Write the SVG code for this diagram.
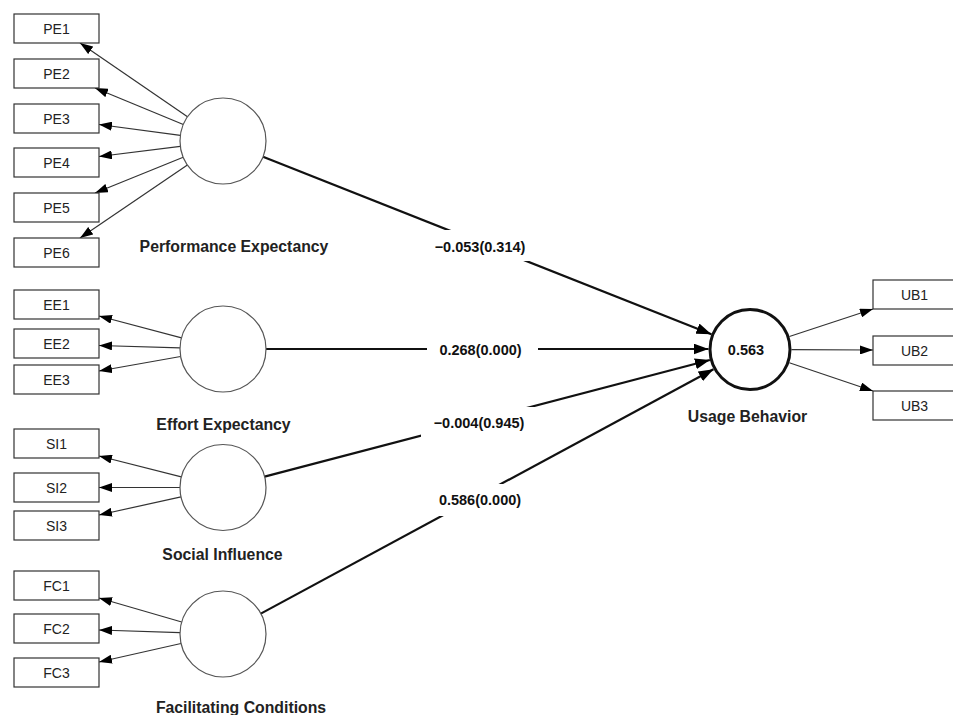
<svg xmlns="http://www.w3.org/2000/svg" width="953" height="715" viewBox="0 0 953 715">
<defs>
<marker id="ah" markerUnits="userSpaceOnUse" markerWidth="13" markerHeight="9" refX="13" refY="4.5" orient="auto"><path d="M0,0 L13,4.5 L0,9 z" fill="#000"/></marker>
<marker id="ahb" markerUnits="userSpaceOnUse" markerWidth="15" markerHeight="11" refX="15" refY="5.5" orient="auto"><path d="M0,0 L15,5.5 L0,11 z" fill="#000"/></marker>
<style>
.box{fill:#fff;stroke:#333;stroke-width:1.2}
.bt{font-family:"Liberation Sans",Arial,sans-serif;font-size:14px;fill:#222;text-anchor:middle}
.lv{fill:#fff;stroke:#555;stroke-width:1.2}
.lvb{fill:#fff;stroke:#111;stroke-width:3}
.lbl{font-family:"Liberation Sans",Arial,sans-serif;font-size:15.8px;font-weight:bold;fill:#222;text-anchor:middle}
.ind{stroke:#333;stroke-width:1.2;fill:none;marker-end:url(#ah)}
.str{stroke:#111;stroke-width:2.2;fill:none;marker-end:url(#ahb)}
.el{font-family:"Liberation Sans",Arial,sans-serif;font-size:14.5px;font-weight:bold;fill:#111;text-anchor:middle}
</style>
</defs>
<rect width="953" height="715" fill="#fff"/>

<g id="connectors">
<line class="ind" x1="187.5" y1="116.7" x2="80" y2="43"/>
<line class="ind" x1="183.3" y1="124.5" x2="95" y2="88"/>
<line class="ind" x1="180.4" y1="135.3" x2="99" y2="124.5"/>
<line class="ind" x1="180.3" y1="146.3" x2="99" y2="156.5"/>
<line class="ind" x1="183.2" y1="157.2" x2="95" y2="193"/>
<line class="ind" x1="187.4" y1="165.1" x2="80" y2="238"/>
<line class="ind" x1="181.5" y1="337.9" x2="99" y2="316"/>
<line class="ind" x1="180" y1="347.8" x2="99" y2="345.5"/>
<line class="ind" x1="180.6" y1="356.5" x2="99" y2="371"/>
<line class="ind" x1="181.3" y1="476.9" x2="99" y2="456"/>
<line class="ind" x1="180" y1="487.5" x2="99" y2="487.5"/>
<line class="ind" x1="181" y1="496.8" x2="99" y2="515"/>
<line class="ind" x1="181.7" y1="622" x2="99" y2="598"/>
<line class="ind" x1="180" y1="632.6" x2="99" y2="630"/>
<line class="ind" x1="181" y1="643.5" x2="99" y2="662"/>
<line class="ind" x1="789.4" y1="336.5" x2="873" y2="309"/>
<line class="ind" x1="791.5" y1="349.7" x2="873" y2="350"/>
<line class="ind" x1="789.3" y1="362.8" x2="873" y2="391"/>
<line class="str" x1="263" y1="156.8" x2="711.4" y2="334.2"/>
<line class="str" x1="266" y1="349" x2="708.5" y2="349"/>
<line class="str" x1="264.6" y1="476.6" x2="709.9" y2="360"/>
<line class="str" x1="260.8" y1="613.6" x2="713.5" y2="369.2"/>
</g>

<g id="edge-labels">
<g><rect x="427" y="230" width="106" height="31" fill="#fff"/><text class="el" x="480" y="252">−0.053(0.314)</text></g>
<g><rect x="427" y="334" width="111" height="31" fill="#fff"/><text class="el" x="480.5" y="355">0.268(0.000)</text></g>
<g><rect x="421" y="407" width="116" height="32" fill="#fff"/><text class="el" x="479" y="428">−0.004(0.945)</text></g>
<g><rect x="427" y="484" width="107" height="32" fill="#fff"/><text class="el" x="480" y="505">0.586(0.000)</text></g>
</g>

<g id="PE1"><rect class="box" x="14" y="14" width="85" height="29"/><text class="bt" x="56.5" y="33.5">PE1</text></g>
<g id="PE2"><rect class="box" x="14" y="59" width="85" height="29"/><text class="bt" x="56.5" y="78.5">PE2</text></g>
<g id="PE3"><rect class="box" x="14" y="104" width="85" height="29"/><text class="bt" x="56.5" y="123.5">PE3</text></g>
<g id="PE4"><rect class="box" x="14" y="148" width="85" height="29"/><text class="bt" x="56.5" y="167.5">PE4</text></g>
<g id="PE5"><rect class="box" x="14" y="193" width="85" height="29"/><text class="bt" x="56.5" y="212.5">PE5</text></g>
<g id="PE6"><rect class="box" x="14" y="238" width="85" height="29"/><text class="bt" x="56.5" y="257.5">PE6</text></g>
<g id="EE1"><rect class="box" x="14" y="290" width="85" height="29"/><text class="bt" x="56.5" y="309.5">EE1</text></g>
<g id="EE2"><rect class="box" x="14" y="329" width="85" height="29"/><text class="bt" x="56.5" y="348.5">EE2</text></g>
<g id="EE3"><rect class="box" x="14" y="365" width="85" height="29"/><text class="bt" x="56.5" y="384.5">EE3</text></g>
<g id="SI1"><rect class="box" x="14" y="429" width="85" height="29"/><text class="bt" x="56.5" y="448.5">SI1</text></g>
<g id="SI2"><rect class="box" x="14" y="473" width="85" height="29"/><text class="bt" x="56.5" y="492.5">SI2</text></g>
<g id="SI3"><rect class="box" x="14" y="511" width="85" height="29"/><text class="bt" x="56.5" y="530.5">SI3</text></g>
<g id="FC1"><rect class="box" x="14" y="571" width="85" height="29"/><text class="bt" x="56.5" y="590.5">FC1</text></g>
<g id="FC2"><rect class="box" x="14" y="614" width="85" height="29"/><text class="bt" x="56.5" y="633.5">FC2</text></g>
<g id="FC3"><rect class="box" x="14" y="658" width="85" height="29"/><text class="bt" x="56.5" y="677.5">FC3</text></g>
<g id="UB1"><rect class="box" x="873" y="280" width="90" height="29"/><text class="bt" x="914.5" y="299.5">UB1</text></g>
<g id="UB2"><rect class="box" x="873" y="336" width="90" height="29"/><text class="bt" x="914.5" y="355.5">UB2</text></g>
<g id="UB3"><rect class="box" x="873" y="391" width="90" height="29"/><text class="bt" x="914.5" y="410.5">UB3</text></g>

<g id="PerformanceExpectancy"><circle class="lv" cx="223" cy="141" r="43"/><text class="lbl" x="234" y="252">Performance Expectancy</text></g>
<g id="EffortExpectancy"><circle class="lv" cx="223" cy="349" r="43"/><text class="lbl" x="223.5" y="430">Effort Expectancy</text></g>
<g id="SocialInfluence"><circle class="lv" cx="223" cy="487.5" r="43"/><text class="lbl" x="222.5" y="560">Social Influence</text></g>
<g id="FacilitatingConditions"><circle class="lv" cx="223" cy="634" r="43"/><text class="lbl" x="241" y="713">Facilitating Conditions</text></g>
<g id="UsageBehavior"><circle class="lvb" cx="750" cy="349.5" r="40"/><text class="el" x="746" y="355">0.563</text><text class="lbl" x="747.5" y="422">Usage Behavior</text></g>
</svg>
